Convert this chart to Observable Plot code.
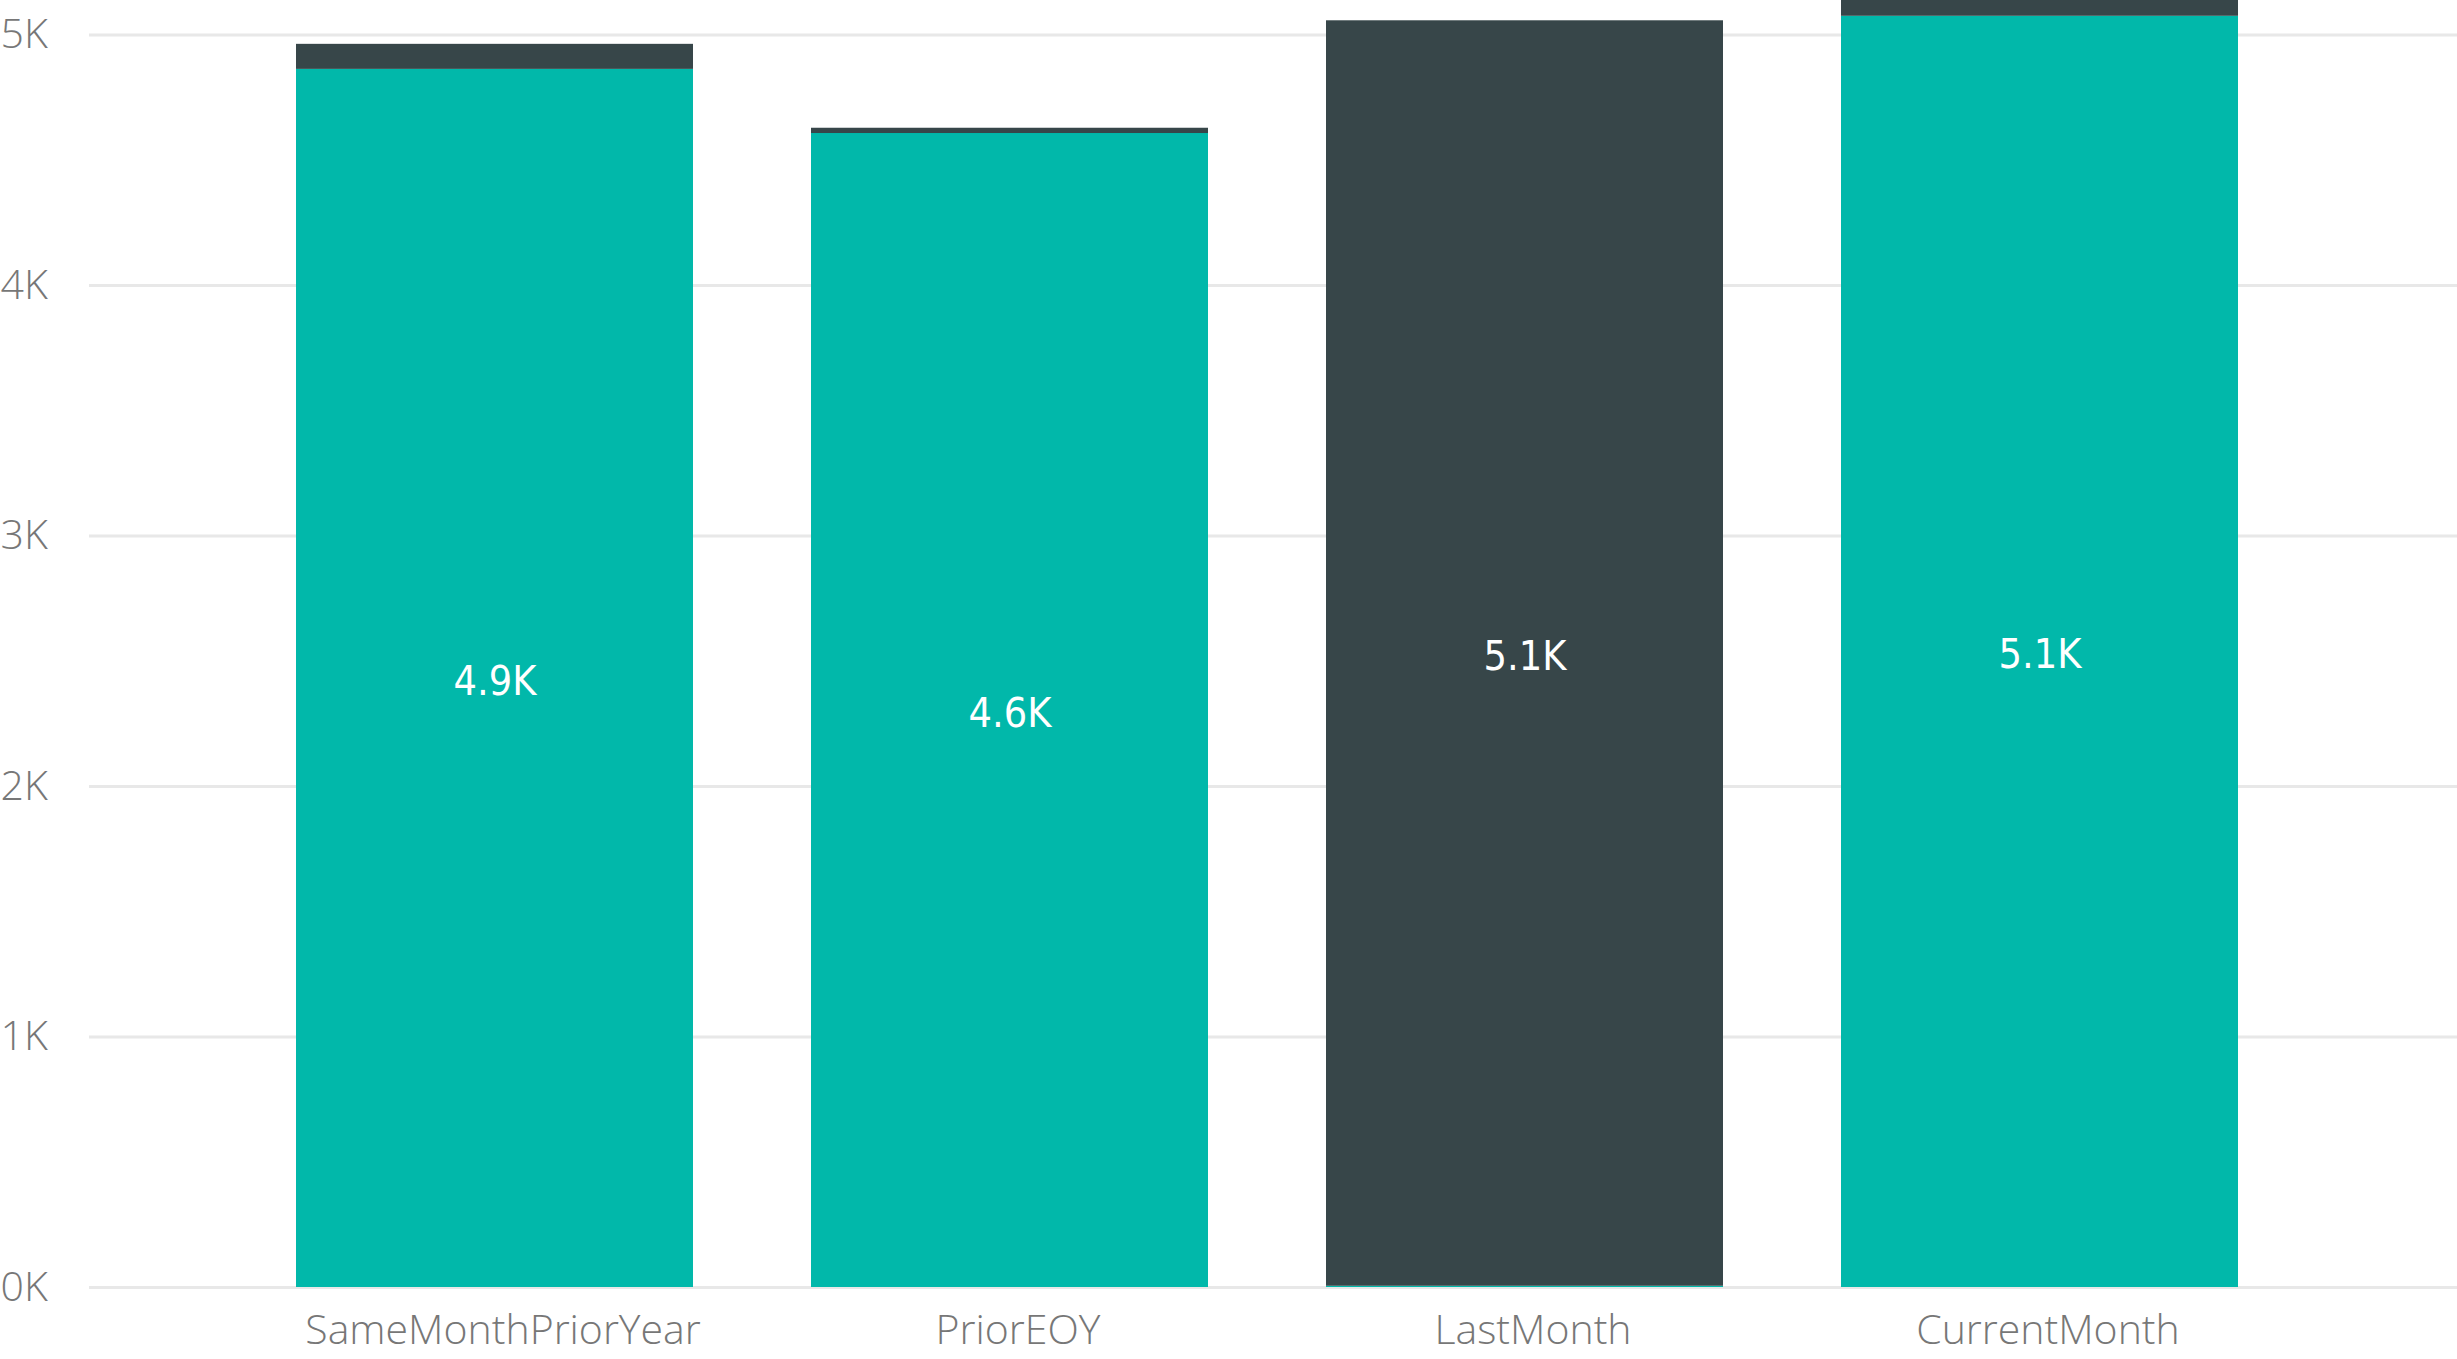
<!DOCTYPE html>
<html><head><meta charset="utf-8">
<script src="https://cdn.jsdelivr.net/npm/d3@7"></script>
<script src="https://cdn.jsdelivr.net/npm/@observablehq/plot@0.6"></script>
<style>body{margin:0;background:#fff;overflow:hidden}</style>
</head><body><div id="chart"></div>
<script>
const categories = ["SameMonthPriorYear", "PriorEOY", "LastMonth", "CurrentMonth"];
const seriesNames = ["Series 1", "Series 2"];
const series1Values = [4863, 4607, 5, 5075];
const series2Values = [100, 21, 5052, 63];
const yTicks = [0, 1000, 2000, 3000, 4000, 5000];
const yMax = 5138;
const seriesColors = ["#01B8AA", "#374649"];

const data = [];
categories.forEach((c, i) => {
  data.push({category: c, series: seriesNames[0], value: series1Values[i]});
  data.push({category: c, series: seriesNames[1], value: series2Values[i]});
});
const fmt = v => (v / 1000).toFixed(1) + "K";

const chart = Plot.plot({
  width: 2457, height: 1359,
  marginTop: 0, marginBottom: 72, marginLeft: 89, marginRight: 0,
  style: {fontFamily: "'Open Sans', 'Noto Sans', sans-serif", background: "#fff"},
  x: {domain: categories, paddingInner: 0.23, paddingOuter: 0.412, align: 0.486, label: null},
  y: {domain: [0, yMax], label: null},
  color: {domain: seriesNames, range: seriesColors},
  marks: [
    Plot.ruleY(yTicks, {stroke: "#e8e8e8", strokeWidth: 3}),
    Plot.barY(data, {x: "category", y: "value", fill: "series", order: seriesNames}),
    Plot.text(data, Plot.stackY({
      x: "category", y: "value", z: "series", order: seriesNames,
      text: d => d.value > 500 ? fmt(d.value) : "",
      fill: "white", fontSize: 41, dy: 3, fontFamily: "'DejaVu Sans Condensed', Roboto, sans-serif"
    })),
    Plot.axisY(yTicks, {tickSize: 0, tickPadding: 89, textAnchor: "start", tickFormat: d => d / 1000 + "K", fontSize: 41, fontWeight: 300, fill: "#777", label: null}),
    Plot.axisX({tickSize: 0, tickPadding: 27, dx: 8, fontSize: 41, fontWeight: 300, fill: "#777", label: null})
  ]
});
document.getElementById("chart").appendChild(chart);
</script>
</body></html>
